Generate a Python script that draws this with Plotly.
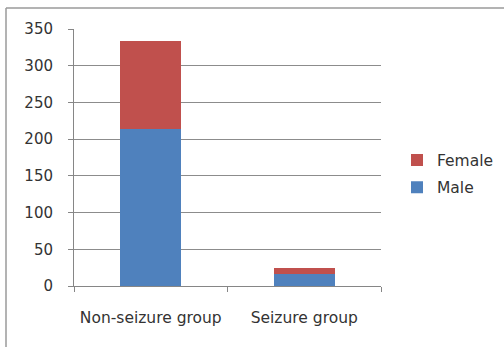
import plotly.graph_objects as go

categories = ["Non-seizure group", "Seizure group"]
male = [214, 17]
female = [119, 8]
y_ticks = [0, 50, 100, 150, 200, 250, 300, 350]

L, R, T, B = 74, 123, 29, 61
W, H = 504, 347
pw, ph = W - L - R, H - T - B

def px(x):
    return (x - L) / pw

def py(y):
    return (H - B - y) / ph

fam = "DejaVu Sans, Liberation Sans, sans-serif"
font = dict(family=fam, size=15, color="#333333")
xfont = dict(family=fam, size=15.5, color="#333333")

fig = go.Figure()
fig.add_trace(go.Bar(x=categories, y=male, name="Male", marker=dict(color="#4F81BD", line=dict(width=0)),
                     legendgroup="m", legendrank=2))
fig.add_trace(go.Bar(x=categories, y=female, name="Female", marker=dict(color="#C0504D", line=dict(width=0)),
                     legendgroup="f", legendrank=1))

fig.update_layout(
    width=W, height=H,
    margin=dict(l=L, r=R, t=T, b=B, autoexpand=False),
    barmode="stack", bargap=0.6,
    paper_bgcolor="white", plot_bgcolor="white",
    font=font,
    showlegend=True,
    legend=dict(x=px(397), y=py(174), xanchor="left", yanchor="middle",
                traceorder="grouped", tracegroupgap=4, font=xfont,
                bgcolor="rgba(0,0,0,0)"),
    xaxis=dict(showline=True, linecolor="#868686", linewidth=1, ticks="outside", tickson="boundaries",
               ticklen=5, tickcolor="#868686", showgrid=False, tickfont=xfont, ticklabelstandoff=17,
               tickangle=0, automargin=False),
    yaxis=dict(range=[0, 350], tickvals=y_ticks, showline=True, linecolor="#868686", linewidth=1,
               ticks="outside", ticklen=5, tickcolor="#868686", showgrid=True, gridcolor="#8c8c8c",
               gridwidth=1, zeroline=False, tickfont=font, ticklabelstandoff=12, automargin=False),
    shapes=[
        dict(type="line", xref="paper", yref="paper", x0=px(6), x1=px(504), y0=py(8), y1=py(8),
             line=dict(color="#9a9a9a", width=1.5)),
        dict(type="line", xref="paper", yref="paper", x0=px(6), x1=px(6), y0=py(8), y1=py(347),
             line=dict(color="#9a9a9a", width=1.5)),
    ],
)

fig.write_html("out.html")
